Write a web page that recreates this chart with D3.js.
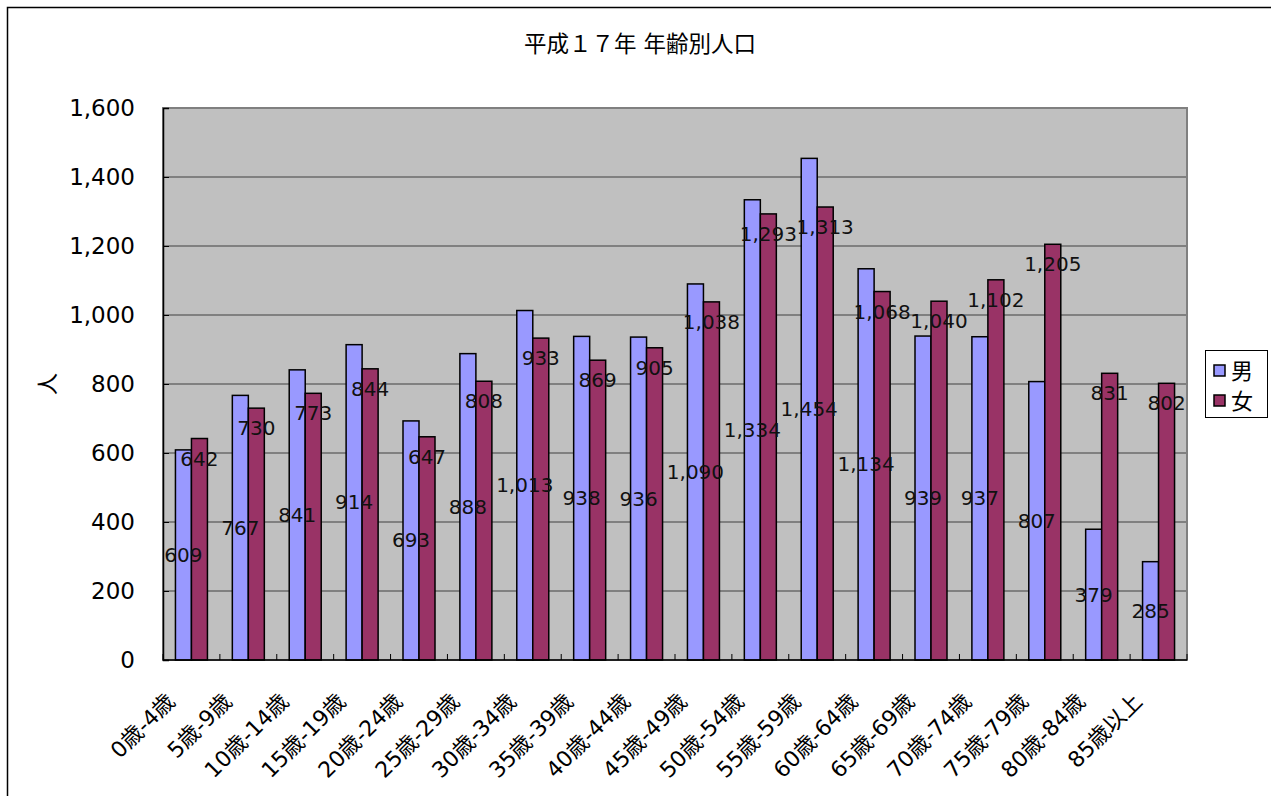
<!DOCTYPE html>
<html><head><meta charset="utf-8">
<script src="https://cdn.jsdelivr.net/npm/d3@7"></script>
<style>body{margin:0;background:#fff}svg{display:block}text{font-family:"DejaVu Sans","Noto Sans CJK JP",sans-serif}</style>
</head><body>
<svg id="c" width="1271" height="796"></svg>
<script>
const categories = ["0歳-4歳","5歳-9歳","10歳-14歳","15歳-19歳","20歳-24歳","25歳-29歳","30歳-34歳","35歳-39歳","40歳-44歳","45歳-49歳","50歳-54歳","55歳-59歳","60歳-64歳","65歳-69歳","70歳-74歳","75歳-79歳","80歳-84歳","85歳以上"];
const male = [609,767,841,914,693,888,1013,938,936,1090,1334,1454,1134,939,937,807,379,285];
const female = [642,730,773,844,647,808,933,869,905,1038,1293,1313,1068,1040,1102,1205,831,802];
const seriesNames = ["男","女"];
const yTicks = [0,200,400,600,800,1000,1200,1400,1600];
const title = "平成１７年 年齢別人口";
const yTitle = "人";

const svg = d3.select("#c");
const L=163, R=1187, T=108, B=660;
const colors = ["#9999FF","#993366"];
const x = d3.scaleBand().domain(categories).range([L,R]).padding(0);
const y = d3.scaleLinear().domain([0,1600]).range([B,T]);
const fmt = d3.format(",");
const bw = 16;

// outer frame
svg.append("rect").attr("x",7.5).attr("y",7.5).attr("width",1300).attr("height",820)
  .attr("fill","none").attr("stroke","#000").attr("stroke-width",1.5);

// plot area
svg.append("rect").attr("x",L).attr("y",T).attr("width",R-L).attr("height",B-T).attr("fill","#C0C0C0");
svg.append("g").selectAll("line").data(yTicks.filter(d=>d>0 && d<1600)).join("line")
  .attr("x1",L).attr("x2",R).attr("y1",d=>y(d)).attr("y2",d=>y(d)).attr("stroke","#404040").attr("stroke-width",1.2);
svg.append("rect").attr("x",L).attr("y",T).attr("width",R-L).attr("height",B-T)
  .attr("fill","none").attr("stroke","#808080").attr("stroke-width",2);

// bars
const gBars = svg.append("g");
[male,female].forEach((vals,si)=>{
  gBars.selectAll(null).data(vals).join("rect")
    .attr("x",(d,i)=>x(categories[i])+x.bandwidth()/2 - bw + si*bw)
    .attr("y",d=>y(d)).attr("width",bw).attr("height",d=>B-y(d))
    .attr("fill",colors[si]).attr("stroke","#000").attr("stroke-width",1.5);
});

// axes
const yAxis = d3.axisLeft(y).tickValues(yTicks).tickFormat(fmt).tickSize(-6).tickPadding(28);
const gy = svg.append("g").attr("transform",`translate(${L},0)`).call(yAxis);
gy.select(".domain").attr("stroke","#000").attr("stroke-width",1.5);
gy.selectAll(".tick line").attr("stroke","#000");
gy.selectAll("text").attr("font-size",23).attr("fill","#000").attr("font-family","DejaVu Sans");

const gx = svg.append("g").attr("transform",`translate(0,${B})`);
gx.append("line").attr("x1",L).attr("x2",R).attr("stroke","#000").attr("stroke-width",1.5);
gx.selectAll("line.t").data(d3.range(categories.length+1)).join("line").attr("class","t")
  .attr("x1",i=>L+i*x.step()).attr("x2",i=>L+i*x.step()).attr("y1",0).attr("y2",-6).attr("stroke","#000");
gx.selectAll("text").data(categories).join("text")
  .attr("transform",d=>`translate(${x(d)+x.bandwidth()/2-26},${32}) rotate(-45)`)
  .attr("text-anchor","end").attr("dy","0.7em").attr("font-size",22).attr("fill","#000").text(d=>d);

// data labels
const gl = svg.append("g").attr("font-size",20).attr("fill","#111").attr("text-anchor","middle");
gl.selectAll("text.m").data(male).join("text").attr("class","m")
  .attr("x",(d,i)=>x(categories[i])+x.bandwidth()/2 - bw/2)
  .attr("y",d=>y(d/2)).attr("dy","0.35em").text(d=>fmt(d));
gl.selectAll("text.f").data(female).join("text").attr("class","f")
  .attr("x",(d,i)=>x(categories[i])+x.bandwidth()/2 + bw/2)
  .attr("y",d=>y(d)+20).attr("dy","0.35em").text(d=>fmt(d));

// title
svg.append("text").attr("x",640).attr("y",52).attr("text-anchor","middle").attr("font-size",22.5)
  .attr("font-family","Noto Sans CJK JP").attr("fill","#000").text(title);
// y title
svg.append("text").attr("transform","translate(47,384) rotate(-90)").attr("text-anchor","middle").attr("dy","0.35em")
  .attr("font-size",22).attr("font-family","Noto Sans CJK JP").attr("fill","#000").text(yTitle);

// legend
const lg = svg.append("g").attr("transform","translate(1205,350)");
lg.append("rect").attr("x",0.5).attr("y",0.5).attr("width",62).attr("height",67).attr("fill","#fff").attr("stroke","#000");
seriesNames.forEach((n,i)=>{
  lg.append("rect").attr("x",9).attr("y",15+i*30).attr("width",11).attr("height",11).attr("fill",colors[i]).attr("stroke","#000").attr("stroke-width",1.5);
  lg.append("text").attr("x",26).attr("y",21+i*30).attr("dy","0.35em").attr("font-size",22).attr("font-family","Noto Sans CJK JP").attr("fill","#000").text(n);
});
</script>
</body></html>
